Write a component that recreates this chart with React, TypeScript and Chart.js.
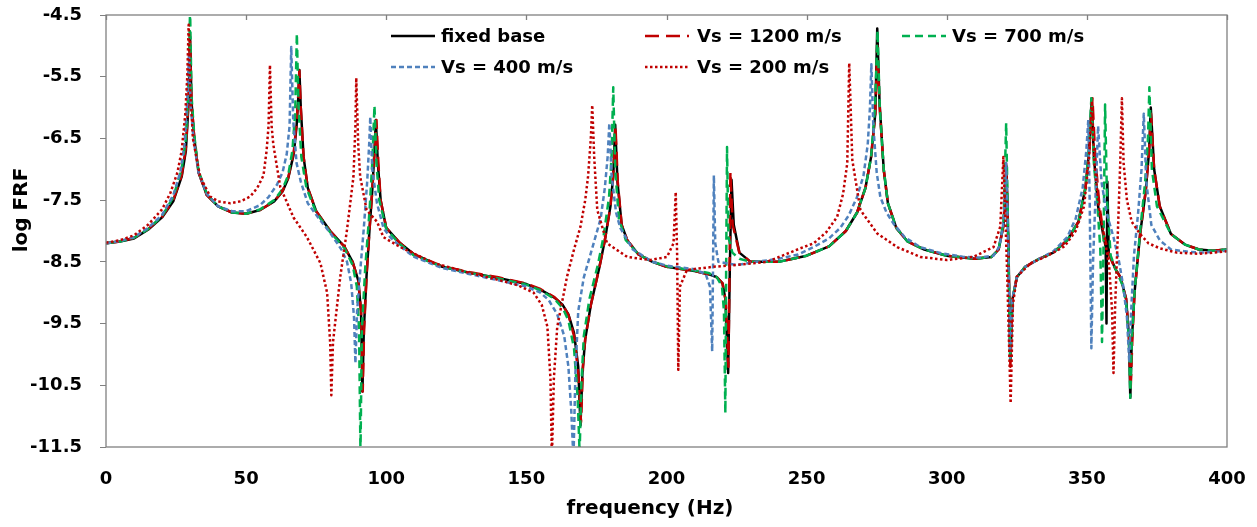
import React, { useEffect, useRef } from 'react';
import { Chart, registerables } from 'chart.js';
Chart.register(...registerables);

// ---------- data ----------
const xTicks = [0, 50, 100, 150, 200, 250, 300, 350, 400];
const yTicks = [-11.5, -10.5, -9.5, -8.5, -7.5, -6.5, -5.5, -4.5];
const seriesNames = ['fixed base', 'Vs = 1200 m/s', 'Vs = 700 m/s', 'Vs = 400 m/s', 'Vs = 200 m/s'];

const fixedX = [0,5,10,15,20,24,27,28.5,29.5,30,30.5,31.5,33,36,40,45,50,55,60,63,65,67,68,68.6,69,69.5,70.5,72,75,80,85,88,90,91,91.5,92,93,94,95,95.8,96.3,97,98,100,105,110,120,130,140,150,155,160,163,165,167,168.5,169.3,170,171,173,176,178,180,181,181.7,182.5,184,186,190,195,200,210,215,218,220,221,222,222.6,223.2,224,226,230,240,250,258,264,268,271,273,274.5,275.2,276,277.5,279,282,286,292,300,310,316,318.5,320.3,321.3,322,322.7,323.5,325,328,333,338,343,347,349.5,350.8,351.7,352.5,354,356,356.7,357,357.3,357.8,360,362,364,365,365.5,366,367,369,371,372.2,372.8,374,376,380,385,390,395,400];
const fixedY = [-8.2,-8.17,-8.12,-7.98,-7.78,-7.52,-7.12,-6.7,-5.9,-4.85,-5.9,-6.5,-7.05,-7.42,-7.6,-7.7,-7.72,-7.66,-7.52,-7.36,-7.15,-6.75,-6.3,-5.85,-5.39,-6.0,-6.8,-7.3,-7.68,-8.0,-8.25,-8.5,-8.8,-9.3,-10.6,-9.6,-8.7,-8.0,-7.35,-6.7,-6.2,-6.9,-7.5,-7.95,-8.2,-8.38,-8.58,-8.68,-8.76,-8.86,-8.95,-9.08,-9.2,-9.35,-9.65,-10.2,-11.15,-10.3,-9.75,-9.2,-8.6,-8.15,-7.6,-7.1,-6.28,-7.2,-7.9,-8.15,-8.38,-8.5,-8.58,-8.65,-8.7,-8.75,-8.85,-9.1,-10.3,-8.6,-7.17,-7.9,-8.35,-8.5,-8.5,-8.4,-8.25,-8.0,-7.7,-7.3,-6.8,-6.1,-4.72,-5.9,-7.0,-7.55,-7.95,-8.17,-8.3,-8.4,-8.45,-8.42,-8.3,-7.9,-6.95,-8.2,-10.1,-9.1,-8.75,-8.58,-8.45,-8.35,-8.15,-7.85,-7.3,-6.7,-5.85,-6.8,-7.6,-8.1,-8.25,-9.5,-7.2,-8.35,-8.6,-8.75,-9.1,-9.7,-10.7,-9.8,-9.0,-8.05,-7.35,-6.7,-6.0,-7.0,-7.6,-8.05,-8.22,-8.3,-8.32,-8.3];

const vs1200X = [0,5,10,15,20,24,27,28.5,29.5,30,30.5,31.5,33,36,40,45,50,55,60,63,65,67,68,68.6,69,69.5,70.5,72,75,80,85,88,90,91,91.6,92.1,93,94,95,96,96.5,97.2,98,100,105,110,120,130,140,150,155,160,163,165,167,168.5,169.5,170.2,171,173,176,178,180,181,181.8,182.6,184,186,190,195,200,210,215,218,220,221.2,222.1,222.5,222.8,223.6,226,230,240,250,258,264,268,271,273,274.5,275.2,276,277.5,279,282,286,292,300,310,316,318.5,320.3,321.2,322,322.7,323.5,325,328,333,338,343,347,349.5,351,352,353,354.5,356,358,360,362,364,365,365.6,366.2,367,369,371,372.2,372.9,374,376,380,385,390,395,400];
const vs1200Y = [-8.2,-8.17,-8.11,-7.97,-7.77,-7.5,-7.1,-6.65,-5.85,-4.9,-5.9,-6.5,-7.05,-7.42,-7.6,-7.7,-7.72,-7.66,-7.52,-7.35,-7.14,-6.72,-6.25,-5.8,-5.4,-6.0,-6.8,-7.3,-7.68,-8.0,-8.25,-8.5,-8.8,-9.3,-10.6,-9.6,-8.7,-8.0,-7.35,-6.6,-6.2,-6.9,-7.5,-7.95,-8.2,-8.38,-8.57,-8.67,-8.75,-8.85,-8.94,-9.07,-9.2,-9.36,-9.7,-10.3,-11.1,-10.2,-9.75,-9.2,-8.6,-8.15,-7.6,-7.1,-6.3,-7.2,-7.9,-8.15,-8.38,-8.5,-8.58,-8.65,-8.7,-8.75,-8.85,-9.15,-10.2,-8.6,-7.04,-7.9,-8.35,-8.5,-8.5,-8.4,-8.25,-8.0,-7.7,-7.3,-6.8,-6.1,-5.0,-5.95,-7.0,-7.55,-7.95,-8.17,-8.3,-8.4,-8.45,-8.42,-8.3,-7.9,-6.9,-8.3,-10.2,-9.1,-8.75,-8.58,-8.45,-8.35,-8.15,-7.85,-7.3,-6.6,-5.85,-6.8,-7.6,-8.05,-8.4,-8.6,-8.75,-9.1,-9.7,-10.6,-9.8,-9.0,-8.05,-7.35,-6.7,-6.1,-7.0,-7.6,-8.05,-8.22,-8.3,-8.32,-8.3];

const vs700X = [0,5,10,15,20,24,27,28.5,29.5,30,30.5,31.5,33,36,40,45,50,55,60,63,65,66.5,67.5,68.1,68.7,69.7,71.5,75,80,85,88,89.5,90.3,90.8,91.3,92.5,94,95,95.8,96.5,97.5,100,105,110,120,130,140,150,155,160,163,165,167,168.3,169,169.6,170.5,172.5,175.5,177.5,179.5,180.4,181,181.7,183,185.5,190,195,200,210,215,218,219.8,220.5,221,221.3,221.6,222.1,223.5,226,230,240,250,258,264,268,271,273,274.4,275.3,276.1,277.5,279,282,286,292,300,310,316,318.5,320.3,321.2,322,322.6,323.4,325,328,333,338,343,347,349.5,350.8,351.6,352.5,353.8,354.8,355.4,355.9,356.5,357.2,358.5,360.5,362.5,364,365,365.5,366,367,369,370.8,371.8,372.3,373.2,375,380,385,390,395,400];
const vs700Y = [-8.2,-8.17,-8.11,-7.97,-7.76,-7.45,-7.0,-6.5,-5.6,-4.4,-5.8,-6.45,-7.02,-7.4,-7.6,-7.7,-7.72,-7.65,-7.5,-7.32,-7.1,-6.7,-6.1,-4.8,-6.0,-6.8,-7.3,-7.7,-8.02,-8.27,-8.55,-8.9,-9.6,-11.6,-9.6,-8.6,-7.7,-6.9,-5.97,-6.9,-7.5,-7.97,-8.22,-8.4,-8.58,-8.68,-8.77,-8.87,-8.96,-9.1,-9.25,-9.45,-9.9,-10.7,-11.6,-10.5,-9.7,-9.1,-8.55,-8.1,-7.45,-6.8,-5.67,-7.0,-7.8,-8.15,-8.38,-8.5,-8.57,-8.64,-8.68,-8.75,-8.9,-9.3,-10.95,-8.5,-6.64,-8.1,-8.35,-8.45,-8.5,-8.5,-8.4,-8.25,-8.0,-7.7,-7.3,-6.8,-6.0,-4.75,-6.0,-7.0,-7.55,-7.95,-8.17,-8.3,-8.4,-8.45,-8.42,-8.3,-7.85,-6.25,-8.3,-10.1,-9.1,-8.75,-8.58,-8.45,-8.35,-8.15,-7.85,-7.3,-6.6,-5.85,-6.9,-7.6,-8.3,-9.8,-8.4,-5.95,-7.5,-8.4,-8.65,-8.85,-9.15,-9.75,-10.7,-9.8,-9.0,-8.0,-7.2,-6.5,-5.67,-7.0,-7.6,-8.05,-8.22,-8.3,-8.32,-8.3];

const vs400X = [0,5,10,15,20,24,26.5,28,29,29.6,30.2,31.2,33,36,40,45,50,55,58,61,63,64.5,65.5,66.1,66.8,68,69.5,72,75.5,80,84,86,87.5,88.5,89,89.6,90.8,92,93.2,93.9,94.3,95,96.7,99,101.4,105,110,120,130,140,150,155,158,161,163.5,165,166,166.8,167.5,168.5,170.5,174,176.5,178,179,179.6,180.4,182,183.5,188,195,200,210,214,215.5,216.3,216.6,216.9,217.4,218.5,225,232,240,247,252.5,258,262,265,268,270.3,271.8,272.6,273.1,273.8,275,276.3,278.5,281,285,290.5,298,306,312,316.7,318.8,320.3,321.2,322,322.6,323.4,325,328,333,338,343,346,348.5,349.8,350.5,351,351.6,352.2,353.2,354,355.2,357,359.5,361.5,363,364.3,365.1,365.8,366.8,368.3,369.5,370.3,371.2,373,376,380,385,390,395,400];
const vs400Y = [-8.2,-8.16,-8.1,-7.95,-7.74,-7.42,-7.05,-6.6,-5.9,-5.15,-5.95,-6.5,-7.05,-7.4,-7.6,-7.68,-7.68,-7.58,-7.45,-7.25,-7.05,-6.75,-6.3,-5.02,-6.2,-6.9,-7.2,-7.55,-7.77,-8.03,-8.3,-8.5,-8.85,-9.4,-10.14,-9.3,-8.6,-7.95,-7.2,-6.6,-6.15,-7.0,-7.55,-7.95,-8.1,-8.25,-8.42,-8.6,-8.7,-8.8,-8.9,-9.0,-9.12,-9.35,-9.7,-10.2,-10.9,-11.7,-10.3,-9.3,-8.75,-8.2,-7.8,-7.3,-6.8,-6.25,-7.1,-7.7,-7.95,-8.3,-8.5,-8.56,-8.62,-8.7,-8.9,-9.95,-8.6,-7.1,-8.2,-8.5,-8.55,-8.5,-8.45,-8.38,-8.26,-8.12,-7.95,-7.75,-7.45,-7.1,-6.6,-6.0,-5.3,-6.3,-7.05,-7.45,-7.7,-7.88,-8.1,-8.26,-8.36,-8.42,-8.43,-8.4,-8.25,-7.85,-6.9,-8.4,-10.05,-9.1,-8.75,-8.58,-8.45,-8.33,-8.1,-7.8,-7.3,-6.7,-6.2,-7.5,-9.9,-8.5,-7.3,-6.3,-7.2,-7.7,-8.1,-8.5,-8.9,-9.4,-10.1,-9.3,-8.4,-7.7,-7.0,-6.1,-7.2,-7.9,-8.15,-8.3,-8.33,-8.35,-8.34,-8.32];

const vs200X = [0,5,10,15,20,23,25.5,27,28.3,29,29.5,30,31,33.6,37.2,40,44.4,48,51.5,54,56.2,57.3,58,58.5,59.1,59.7,62.2,66.9,71.7,76.5,78.9,80,80.4,81,83.6,86,88.3,89,89.3,90,90.7,93,96.7,99,105,117,130,140.7,147,152.6,155.5,157.5,158.6,159.1,159.8,161,164.5,167,169.3,171,172,173,173.5,174.2,175.3,178.8,186,194.2,200.2,202.5,203.3,203.8,204.2,204.8,207.3,216.8,225,235.9,247.8,252.5,257,260.9,263,264.5,265.2,266.3,269.2,275.2,282.3,290.5,300,309.5,316.7,319.1,320.2,321.5,322.8,323.6,325,330,336,342,346,349,350.8,351.8,352.7,354.5,356.5,358,359,359.5,360.1,361,361.9,362.5,363.1,364.3,366,369,372,376,382,390,400];
const vs200Y = [-8.19,-8.15,-8.07,-7.9,-7.65,-7.38,-7.05,-6.7,-6.1,-5.5,-4.66,-5.6,-6.5,-7.12,-7.44,-7.52,-7.55,-7.52,-7.44,-7.3,-7.1,-6.7,-6.3,-5.31,-6.3,-6.6,-7.29,-7.78,-8.1,-8.52,-9.0,-9.82,-10.66,-9.8,-8.74,-7.98,-7.12,-6.3,-5.52,-6.6,-7.12,-7.66,-7.85,-8.1,-8.26,-8.52,-8.68,-8.8,-8.88,-9.0,-9.2,-9.55,-10.4,-11.7,-10.4,-9.56,-8.74,-8.3,-7.93,-7.5,-7.12,-6.5,-5.96,-6.8,-7.66,-8.2,-8.42,-8.47,-8.42,-8.2,-7.37,-8.4,-10.25,-8.9,-8.63,-8.58,-8.55,-8.5,-8.28,-8.2,-8.02,-7.77,-7.4,-6.9,-5.28,-6.85,-7.66,-8.04,-8.26,-8.42,-8.47,-8.42,-8.26,-7.93,-6.8,-8.6,-10.79,-9.2,-8.74,-8.52,-8.4,-8.25,-8.0,-7.6,-6.8,-5.9,-6.9,-7.7,-8.15,-8.6,-9.3,-10.3,-9.2,-8.1,-6.9,-5.85,-6.9,-7.5,-7.85,-8.05,-8.2,-8.28,-8.35,-8.37,-8.33];

// ---------- styles ----------
const FONT = '"DejaVu Sans", sans-serif';
const colors = ['#000000', '#C00000', '#00B050', '#4F81BD', '#C00000'];
const dashes: number[][] = [[], [14, 7], [8, 5], [5, 3], [2.5, 2.5]];
const widths = [2.5, 2.5, 2.5, 2.5, 2.5];
const orders = [5, 4, 3, 2, 1];

const seriesX = [fixedX, vs1200X, vs700X, vs400X, vs200X];
const seriesY = [fixedY, vs1200Y, vs700Y, vs400Y, vs200Y];

const legendItems = [
  { i: 0, lx: 391, tx: 441, y: 36 },
  { i: 1, lx: 645, tx: 697, y: 36 },
  { i: 2, lx: 902, tx: 952, y: 36 },
  { i: 3, lx: 391, tx: 441, y: 67 },
  { i: 4, lx: 645, tx: 697, y: 67 },
];

const decorPlugin = {
  id: 'decor',
  afterDraw(chart: any) {
    const { ctx, chartArea: a, scales } = chart;
    ctx.save();
    // plot border
    ctx.strokeStyle = '#808080';
    ctx.lineWidth = 1.3;
    ctx.strokeRect(a.left, a.top, a.right - a.left, a.bottom - a.top);
    // top tick marks
    ctx.beginPath();
    for (const v of xTicks) {
      const px = Math.round(scales.x.getPixelForValue(v)) + 0.5;
      ctx.moveTo(px, a.top);
      ctx.lineTo(px, a.top + 5);
    }
    ctx.stroke();
    // axis titles
    ctx.fillStyle = '#000';
    ctx.font = `bold 20px ${FONT}`;
    ctx.textAlign = 'center';
    ctx.textBaseline = 'middle';
    ctx.fillText('frequency (Hz)', 650, 509);
    ctx.save();
    ctx.translate(22, 210);
    ctx.rotate(-Math.PI / 2);
    ctx.fillText('log FRF', 0, 0);
    ctx.restore();
    // legend
    ctx.font = `bold 18px ${FONT}`;
    ctx.textAlign = 'left';
    for (const it of legendItems) {
      ctx.beginPath();
      ctx.strokeStyle = colors[it.i];
      ctx.lineWidth = widths[it.i];
      ctx.setLineDash(dashes[it.i]);
      ctx.moveTo(it.lx, it.y);
      ctx.lineTo(it.lx + 44, it.y);
      ctx.stroke();
      ctx.setLineDash([]);
      ctx.fillStyle = '#000';
      ctx.fillText(seriesNames[it.i], it.tx, it.y + 1);
    }
    ctx.restore();
  },
};

export default function App() {
  const ref = useRef<HTMLCanvasElement>(null);
  useEffect(() => {
    document.body.style.margin = '0';
    const canvas = ref.current!;
    const chart = new Chart(canvas, {
      type: 'line',
      data: {
        datasets: seriesNames.map((name, i) => ({
          label: name,
          data: seriesX[i].map((x, k) => ({ x, y: seriesY[i][k] })),
          borderColor: colors[i],
          backgroundColor: colors[i],
          borderWidth: widths[i],
          borderDash: dashes[i],
          borderJoinStyle: 'round' as const,
          pointRadius: 0,
          tension: 0,
          fill: false,
          order: orders[i],
        })),
      },
      options: {
        responsive: false,
        animation: false,
        devicePixelRatio: 1,
        layout: { padding: { left: 8, right: 30, top: 15, bottom: 0 } },
        plugins: { legend: { display: false }, tooltip: { enabled: false } },
        scales: {
          x: {
            type: 'linear',
            min: 0,
            max: 400,
            ticks: { stepSize: 50, color: '#000', font: { family: FONT, size: 18, weight: 'bold' }, padding: 22, maxRotation: 0 },
            grid: { display: false, drawTicks: false },
            border: { display: false },
            afterFit: (s: any) => { s.height = 80; s.paddingLeft = 0; s.paddingRight = 0; },
          },
          y: {
            type: 'linear',
            min: -11.5,
            max: -4.5,
            afterBuildTicks: (s: any) => { s.ticks = yTicks.map((v) => ({ value: v })); },
            ticks: { color: '#000', font: { family: FONT, size: 18, weight: 'bold' }, padding: 18, callback: (v: any) => Number(v).toFixed(1) },
            grid: { drawOnChartArea: false, drawTicks: true, tickLength: 6, color: '#808080' },
            border: { display: false },
            afterFit: (s: any) => { s.width = 98; s.paddingTop = 0; s.paddingBottom = 0; },
          },
        },
      },
      plugins: [decorPlugin],
    } as any);
    return () => chart.destroy();
  }, []);
  return (
    <div style={{ width: 1257, height: 527 }}>
      <canvas ref={ref} width={1257} height={527} style={{ display: 'block' }} />
    </div>
  );
}
